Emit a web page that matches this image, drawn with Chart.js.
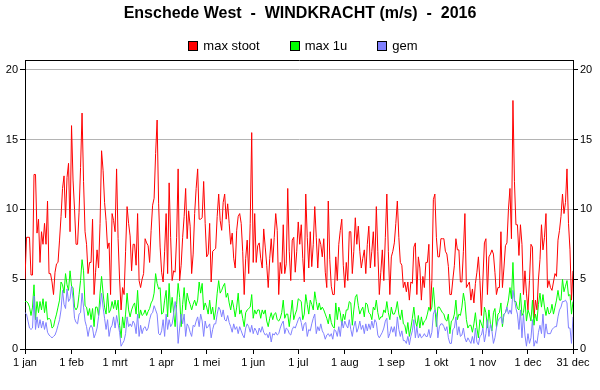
<!DOCTYPE html>
<html><head><meta charset="utf-8">
<script src="https://cdn.jsdelivr.net/npm/chart.js@4.4.1/dist/chart.umd.min.js"></script>
<style>
html,body{margin:0;padding:0;background:#fff;}
#wrap{position:relative;width:600px;height:390px;}
#legend{position:absolute;top:38px;left:3px;width:600px;height:15px;display:flex;justify-content:center;font:13px "Liberation Sans",Arial,sans-serif;color:#000;}
.item{display:flex;align-items:center;height:15px;margin:0 15px;}
.box{width:8px;height:8px;border:1px solid #000;margin-right:5px;}
</style></head><body>
<div id="wrap"><canvas id="c" width="600" height="390"></canvas><div id="legend"></div></div>
<script>
const chartTitle = "Enschede West  -  WINDKRACHT (m/s)  -  2016";
const seriesNames = ["max stoot", "max 1u", "gem"];
const seriesColors = ["#ff0000", "#00ff00", "#8080ff"];
const monthTickDays = [0, 31, 60, 91, 121, 152, 182, 213, 244, 274, 305, 335, 365];
const monthTickLabels = ["1 jan","1 feb","1 mrt","1 apr","1 mei","1 jun","1 jul","1 aug","1 sep","1 okt","1 nov","1 dec","31 dec"];
const yTickValues = [0, 5, 10, 15, 20];

const maxStoot = [
5.0,8.0,8.0,8.0,5.3,5.3,12.5,12.5,8.3,9.3,
6.2,8.4,7.5,9.0,7.5,10.6,5.4,5.4,4.8,3.9,
5.5,6.1,6.2,7.8,9.5,11.5,12.4,9.4,12.3,13.3,
8.4,16.0,12.1,10.0,7.5,7.5,9.8,13.0,16.9,12.0,
8.4,7.5,5.4,6.2,6.2,9.3,3.9,5.5,7.1,5.8,
9.0,14.2,12.8,10.5,9.2,7.2,7.6,3.9,9.7,9.2,
8.4,12.9,7.9,5.0,2.8,4.4,3.9,7.0,10.2,9.0,
8.1,5.6,7.5,7.5,6.0,9.7,4.9,4.4,5.0,5.4,
7.9,7.6,7.4,6.2,8.5,10.3,10.8,14.0,16.4,10.4,
7.3,5.5,4.8,7.0,9.7,5.4,11.9,8.0,4.9,5.6,
5.5,8.0,12.9,4.9,6.0,8.0,9.5,11.5,7.9,9.9,
8.8,5.4,6.8,9.7,11.5,12.9,9.3,9.3,9.4,12.0,
9.0,6.6,6.8,9.0,4.8,7.0,7.1,7.2,9.5,11.1,
9.2,8.5,10.5,11.1,9.3,10.4,9.0,7.5,8.3,6.5,
5.8,8.5,9.5,9.7,9.0,7.0,3.9,6.5,7.8,5.4,
9.0,15.5,6.2,9.7,6.2,7.4,7.6,6.5,5.8,8.6,
7.3,6.0,4.4,6.5,7.9,6.2,8.0,9.7,8.5,3.9,
6.2,5.4,8.9,5.4,6.1,11.5,7.0,4.9,7.8,8.0,
5.5,7.0,9.1,7.5,8.9,6.5,4.8,11.1,8.0,5.8,
8.4,5.9,7.5,10.2,8.0,5.8,7.9,7.5,6.6,7.9,
5.5,4.4,10.6,6.4,4.5,3.9,3.9,6.6,4.9,7.5,
8.5,9.3,6.0,4.4,6.2,4.9,8.4,8.4,5.4,7.0,
9.4,7.5,8.8,7.0,5.8,6.5,7.1,5.4,7.5,8.8,
5.8,7.0,8.4,5.9,10.2,7.0,3.9,5.5,7.1,4.9,
8.0,11.1,7.0,3.9,6.6,7.0,7.6,9.0,10.6,8.0,
6.2,6.0,4.4,4.8,4.1,4.8,3.5,4.8,4.7,7.3,
7.6,3.9,6.6,5.8,3.5,5.2,4.4,6.2,6.2,7.5,
2.8,4.9,10.7,11.1,8.0,6.6,6.6,7.9,7.9,7.9,
7.0,6.8,5.9,3.9,3.9,5.0,6.0,7.9,7.1,7.1,
4.8,4.8,7.0,9.7,4.4,4.6,4.8,3.5,4.3,3.3,
4.7,5.5,6.6,4.9,2.4,5.0,7.6,7.9,3.9,6.6,
6.8,7.1,6.8,5.5,3.9,4.4,4.4,8.4,4.4,5.8,
7.4,7.6,10.0,11.5,7.9,17.8,12.0,8.9,8.9,6.7,
8.9,7.5,3.9,5.6,4.0,2.8,4.9,7.5,7.3,2.2,
3.5,2.8,5.0,6.4,8.9,7.1,8.0,9.7,4.4,4.9,
4.4,4.2,4.8,5.4,5.2,7.8,8.5,9.5,11.1,9.7,
10.5,12.9,9.0,7.1,3.5,5.6
];

const max1u = [
3.4,3.4,3.3,3.0,2.4,3.0,4.6,2.1,3.4,2.6,
3.4,2.8,3.6,2.6,3.4,2.1,2.2,2.1,1.5,1.6,
2.1,2.5,3.0,3.5,4.8,4.6,4.0,5.4,4.6,4.2,
5.6,4.5,4.4,3.0,2.8,3.0,3.9,4.9,6.4,5.6,
3.1,3.0,2.4,2.9,2.1,2.9,1.6,3.0,3.0,2.4,
4.0,5.2,4.0,3.0,2.5,4.0,2.6,2.8,3.4,2.9,
3.5,2.8,3.5,1.7,0.8,2.3,1.5,2.5,4.0,2.8,
2.3,2.8,3.1,3.3,2.5,4.2,2.2,2.8,2.4,2.5,
2.8,2.4,2.7,2.9,3.3,3.5,4.0,5.4,4.7,4.3,
4.4,2.5,2.6,3.5,4.2,2.3,4.7,2.6,3.7,2.6,
1.6,3.2,4.7,3.7,1.6,3.2,4.4,2.8,4.0,3.5,
3.2,2.8,3.2,3.5,3.1,3.5,4.8,4.0,4.7,2.8,
3.3,3.0,2.5,3.5,2.5,3.0,2.1,2.8,4.0,4.9,
4.0,4.2,4.5,4.7,3.7,4.0,3.3,2.8,3.5,3.0,
2.3,3.0,4.0,2.5,2.8,2.2,1.6,2.6,2.8,2.9,
3.0,3.9,2.2,2.8,2.5,2.8,2.8,2.2,2.8,2.5,
2.8,2.0,1.6,2.2,2.6,2.1,2.5,2.6,2.1,2.0,
2.2,2.6,3.5,2.2,2.5,2.5,1.6,2.5,3.5,2.1,
2.5,2.8,3.6,3.5,3.4,2.1,2.5,3.9,3.2,2.5,
3.5,3.2,2.8,4.1,3.4,2.8,3.3,2.8,3.0,2.8,
2.5,2.2,1.8,2.5,1.9,1.6,1.5,3.3,2.1,3.0,
2.6,1.7,2.5,2.1,2.8,2.8,3.4,3.3,1.7,2.8,
3.7,3.9,3.1,2.5,2.8,3.0,2.3,3.3,3.2,2.6,
2.5,2.1,3.0,2.8,3.5,2.6,2.1,2.3,2.3,2.8,
2.6,3.4,2.6,2.1,3.0,2.5,2.5,2.8,3.4,2.5,
2.1,2.8,1.8,1.7,1.1,1.9,0.9,1.5,2.2,3.0,
2.0,1.6,2.4,1.5,2.3,1.7,2.0,2.1,2.5,3.0,
2.7,3.0,4.4,3.0,1.6,3.0,3.0,2.8,2.6,2.5,
2.1,2.0,2.5,1.1,2.0,2.1,2.5,3.5,2.1,2.5,
2.4,3.0,4.0,3.4,2.1,1.5,1.7,1.7,1.2,1.8,
2.6,1.5,0.8,2.1,1.8,1.5,3.0,2.6,1.5,2.8,
1.8,1.3,2.6,2.9,1.6,2.5,2.6,3.3,1.6,2.5,
2.6,3.0,3.5,4.4,3.6,6.2,3.4,3.4,2.9,2.8,
4.0,2.4,2.6,3.5,2.0,2.8,2.5,2.0,3.5,1.7,
2.5,2.0,3.2,4.0,3.0,3.9,3.0,2.4,3.0,2.5,
2.6,3.2,2.5,3.0,3.5,4.2,3.5,3.5,5.0,4.1,
4.5,4.9,3.8,3.9,2.5,3.4
];

const gem = [
2.6,2.5,2.0,1.5,1.4,1.5,3.8,1.4,2.3,1.5,
2.1,1.5,2.0,1.4,1.9,1.2,1.0,0.9,0.8,0.9,
1.0,1.3,1.7,2.1,2.8,4.2,3.2,2.9,4.3,3.4,
3.6,4.5,3.6,2.2,1.9,1.8,2.5,2.6,4.0,3.0,
2.0,1.6,0.9,1.5,1.7,1.5,0.8,1.1,1.5,2.3,
3.0,4.0,3.0,2.2,1.4,2.1,0.9,1.5,1.7,2.3,
1.5,2.4,1.8,1.2,0.2,0.4,0.6,1.1,2.3,1.6,
1.8,1.6,2.0,1.8,1.1,2.5,0.9,1.7,1.1,1.5,
1.6,1.3,1.5,2.1,2.5,2.6,3.1,2.8,2.5,1.1,
1.0,1.3,2.1,0.9,2.5,1.4,2.1,1.6,1.8,2.5,
3.4,2.6,0.4,1.5,2.5,1.8,2.5,0.9,1.8,1.6,
1.2,0.9,1.7,1.6,2.0,2.3,1.6,2.5,2.0,0.9,
2.0,1.5,1.6,1.8,0.8,1.4,1.8,1.8,2.5,3.0,
2.8,2.3,2.8,2.1,2.0,2.4,1.9,1.6,1.2,1.8,
1.4,1.6,1.1,1.6,1.3,1.0,0.8,1.5,1.8,1.6,
1.2,1.7,1.1,1.5,1.3,1.0,1.5,1.2,1.6,1.2,
1.0,1.1,0.8,1.2,0.5,1.1,1.0,1.2,1.0,1.1,
1.5,1.8,2.0,1.1,1.5,1.4,1.1,1.0,1.4,1.6,
1.5,1.8,2.1,2.3,1.9,1.3,1.8,1.9,0.9,1.4,
1.3,1.8,2.2,2.5,1.1,1.6,1.3,1.8,1.3,1.1,
0.7,1.0,1.1,0.9,1.1,0.7,1.4,1.3,0.9,1.6,
0.9,2.0,1.5,2.0,1.7,1.5,2.1,1.4,0.9,1.6,
2.0,1.2,1.5,2.0,1.4,1.7,1.1,1.8,1.3,1.8,
1.4,2.0,1.5,2.1,1.9,1.0,0.8,1.0,1.2,1.5,
2.0,2.2,0.8,1.1,1.6,1.2,1.6,0.9,2.3,1.4,
0.9,1.3,0.6,0.6,0.4,0.9,0.3,0.9,1.3,2.1,
0.8,1.6,0.8,1.1,0.8,0.9,1.1,0.9,0.9,1.4,
0.8,1.2,2.5,2.8,2.5,0.8,1.6,1.8,1.8,1.6,
1.3,1.6,0.8,0.4,0.4,1.4,1.5,2.3,1.0,1.6,
0.9,1.0,1.5,0.8,0.5,0.8,0.6,0.4,0.9,0.4,
1.5,0.5,0.3,0.9,1.0,1.5,0.5,1.1,2.1,0.9,
1.8,1.3,0.4,0.8,1.5,2.0,2.2,2.3,1.8,2.5,
2.6,3.0,2.5,2.8,2.5,4.2,3.6,2.9,2.5,1.4,
2.8,0.8,2.5,1.0,0.2,1.1,0.4,0.8,2.1,0.2,
0.6,0.4,1.2,1.7,1.1,2.5,0.8,1.8,1.1,1.1,
1.1,1.4,1.5,1.6,1.6,2.3,2.8,3.0,3.4,3.4,
3.5,3.3,1.5,1.5,0.4,2.3
];

const seriesValues = [maxStoot, max1u, gem];
const FONT = "'Liberation Sans', Arial, sans-serif";
Chart.defaults.font.family = FONT;
Chart.defaults.color = '#000';

// HTML legend
const legendEl = document.getElementById('legend');
seriesNames.forEach((name, i) => {
  const it = document.createElement('div');
  it.className = 'item';
  const b = document.createElement('span');
  b.className = 'box';
  b.style.background = seriesColors[i];
  const t = document.createElement('span');
  t.textContent = name;
  it.appendChild(b); it.appendChild(t);
  legendEl.appendChild(it);
});

const Y_MAX = 20.7;
const setYTicks = (s) => { s.ticks = yTickValues.map(v => ({ value: v })); };

new Chart(document.getElementById('c'), {
  type: 'line',
  data: {
    datasets: seriesNames.map((name, i) => ({
      label: name,
      data: seriesValues[i].map((v, d) => ({ x: d, y: v })),
      borderColor: seriesColors[i],
      backgroundColor: seriesColors[i],
      borderWidth: 1,
      pointRadius: 0,
      tension: 0,
      fill: false,
      order: 3 - i
    }))
  },
  options: {
    responsive: false,
    animation: false,
    devicePixelRatio: 1,
    layout: { padding: 0 },
    plugins: {
      legend: { display: false },
      tooltip: { enabled: false },
      title: {
        display: true,
        text: chartTitle,
        color: '#000',
        font: { family: FONT, size: 16, weight: 'bold' },
        padding: { top: 4, bottom: 36.8 }
      }
    },
    scales: {
      x: {
        type: 'linear', position: 'bottom', min: 0, max: 365,
        afterBuildTicks: (s) => { s.ticks = monthTickDays.map(v => ({ value: v })); },
        afterFit: (s) => { s.height = 41; },
        ticks: {
          autoSkip: false, maxRotation: 0, padding: 2, color: '#000',
          font: { size: 11 },
          callback: (v) => monthTickLabels[monthTickDays.indexOf(v)]
        },
        grid: { drawOnChartArea: false, drawTicks: true, tickLength: 5, tickColor: '#000' },
        border: { display: true, color: '#000', width: 1 }
      },
      xTop: {
        type: 'linear', position: 'top', min: 0, max: 365,
        afterFit: (s) => { s.height = 0; },
        ticks: { display: false },
        grid: { display: false, drawTicks: false },
        border: { display: true, color: '#000', width: 1 }
      },
      y: {
        type: 'linear', position: 'left', min: 0, max: Y_MAX,
        afterBuildTicks: setYTicks,
        afterFit: (s) => { s.width = 25; },
        ticks: { padding: 2, color: '#000', font: { size: 11 } },
        grid: {
          drawOnChartArea: true, drawTicks: true, tickLength: 5, tickColor: '#000',
          color: (c) => (c.tick && c.tick.value === 0) ? 'rgba(0,0,0,0)' : '#b4b4b4'
        },
        border: { display: true, color: '#000', width: 1 }
      },
      y2: {
        type: 'linear', position: 'right', min: 0, max: Y_MAX,
        afterBuildTicks: setYTicks,
        afterFit: (s) => { s.width = 27; },
        ticks: { padding: 2, color: '#000', font: { size: 11 } },
        grid: { drawOnChartArea: false, drawTicks: true, tickLength: 5, tickColor: '#000' },
        border: { display: true, color: '#000', width: 1 }
      }
    }
  }
});
</script>
</body></html>
